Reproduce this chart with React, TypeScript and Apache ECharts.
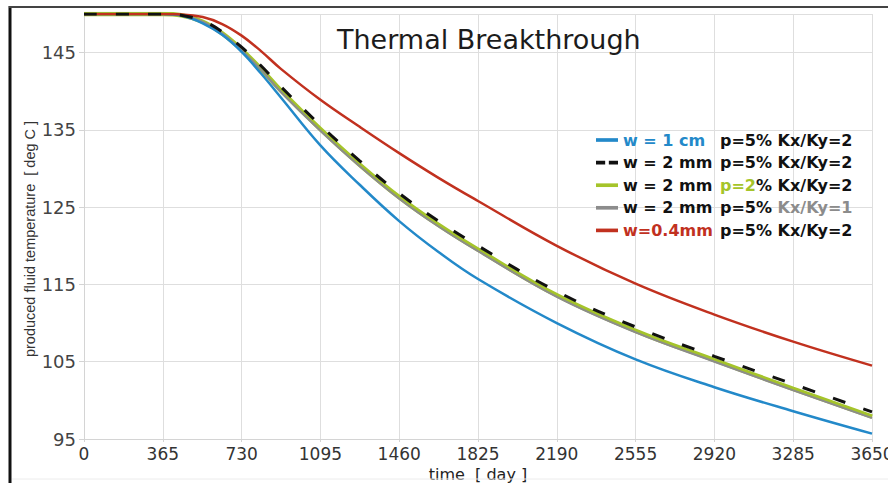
import React, { useEffect, useRef } from "react";
import * as echarts from "echarts";

// Simulation time (days) at which each temperature was sampled
const days = [0, 365, 450, 550, 640, 730, 820, 912, 1095, 1277, 1460, 1642, 1825, 2190, 2555, 2920, 3285, 3650];

// Produced fluid temperature [deg C] per scenario
const w1cm = [150, 150, 149.8, 148.8, 147.3, 145.1, 142.3, 139.2, 133.0, 127.9, 123.2, 119.2, 115.7, 110.0, 105.3, 101.7, 98.6, 95.7];
const w2mmBase = [150, 150, 149.85, 149.1, 147.7, 145.7, 143.3, 140.6, 135.6, 131.0, 126.8, 123.2, 120.0, 114.1, 109.5, 105.7, 102.1, 98.5];
const w2mmP2 = [150, 150, 149.85, 149.0, 147.5, 145.4, 142.9, 140.1, 135.1, 130.5, 126.3, 122.7, 119.5, 113.6, 109.0, 105.2, 101.5, 97.9];
const w2mmK1 = [150, 150, 149.85, 149.0, 147.5, 145.3, 142.8, 139.9, 134.9, 130.3, 126.1, 122.5, 119.3, 113.4, 108.8, 105.0, 101.3, 97.7];
const w04mm = [150, 150, 149.95, 149.6, 148.7, 147.2, 145.2, 142.9, 138.9, 135.4, 132.0, 128.8, 125.8, 120.0, 115.1, 111.1, 107.6, 104.5];

// Axis ticks
const xTicks = { min: 0, max: 3650, step: 365 };
const yTicks = { min: 95, max: 150, step: 10 };

const names = [
  "w = 1 cm p=5% Kx/Ky=2",
  "w = 2 mm p=5% Kx/Ky=2",
  "w = 2 mm p=2% Kx/Ky=2",
  "w = 2 mm p=5% Kx/Ky=1",
  "w=0.4mm p=5% Kx/Ky=2",
];

// Legend labels with the varied parameter highlighted
const legendLabels: Record<string, string> = {
  [names[0]]: "{hb|w = 1 cm}{k|p=5% Kx/Ky=2}",
  [names[1]]: "{hk|w = 2 mm}{k|p=5% Kx/Ky=2}",
  [names[2]]: "{hk|w = 2 mm}{g|p=2}{k|% Kx/Ky=2}",
  [names[3]]: "{hk|w = 2 mm}{k|p=5% }{s|Kx/Ky=1}",
  [names[4]]: "{hr|w=0.4mm}{k|p=5% Kx/Ky=2}",
};

const BLUE = "#2389c9";
const BLACK = "#111111";
const GREEN = "#a5c42a";
const GRAY = "#8c8c8c";
const RED = "#c1311f";

const SOLID_ICON = "path://M0 0H24V4H0Z";
const DASH_ICON = "path://M0 0H10V4H0Z M14 0H24V4H14Z";

const pairs = (ys: number[]) => days.map((d, i) => [d, ys[i]]);

export default function App() {
  const ref = useRef<HTMLDivElement>(null);

  useEffect(() => {
    if (!ref.current) return;
    const chart = echarts.init(ref.current, null, { renderer: "svg" });

    const font = "DejaVu Sans";
    const legendFont = { fontFamily: font, fontWeight: "bold" as const, fontSize: 16, lineHeight: 20 };

    const lineSeries = (name: string, ys: number[], color: string, width: number, type: any = "solid", z = 2) => ({
      type: "line",
      name,
      data: pairs(ys),
      smooth: 0.4,
      symbol: "none",
      showSymbol: false,
      z,
      lineStyle: { color, width, type },
      itemStyle: { color },
    });

    chart.setOption({
      animation: false,
      backgroundColor: "#ffffff",
      title: {
        text: "Thermal Breakthrough",
        left: 337,
        top: 26,
        padding: 0,
        textStyle: { fontFamily: font, fontSize: 27, fontWeight: "normal", color: "#1c1c1c" },
      },
      grid: { left: 84, right: 16, top: 14, bottom: 44, outerBoundsMode: "none", containLabel: false },
      legend: {
        orient: "vertical",
        left: 596,
        top: 130,
        padding: 0,
        itemGap: 2.6,
        itemWidth: 22,
        itemHeight: 4,
        data: [
          { name: names[0], icon: SOLID_ICON },
          { name: names[1], icon: DASH_ICON },
          { name: names[2], icon: SOLID_ICON },
          { name: names[3], icon: SOLID_ICON },
          { name: names[4], icon: SOLID_ICON },
        ],
        formatter: (name: string) => legendLabels[name] ?? name,
        textStyle: {
          ...legendFont,
          color: BLACK,
          rich: {
            hb: { ...legendFont, color: BLUE, width: 97 },
            hk: { ...legendFont, color: BLACK, width: 97 },
            hr: { ...legendFont, color: RED, width: 97 },
            k: { ...legendFont, color: BLACK },
            g: { ...legendFont, color: GREEN },
            s: { ...legendFont, color: GRAY },
          },
        },
      },
      xAxis: {
        type: "value",
        min: xTicks.min,
        max: xTicks.max,
        interval: xTicks.step,
        name: "time  [ day ]",
        nameLocation: "middle",
        nameGap: 16,
        nameTextStyle: { fontFamily: font, fontSize: 16, color: "#222" },
        axisLine: { show: true, lineStyle: { color: "#d4d4d4", width: 1 } },
        axisTick: { show: true, length: 3, lineStyle: { color: "#d4d4d4" } },
        axisLabel: { fontFamily: font, fontSize: 17, color: "#333", margin: 6, formatter: (v: number) => String(v) },
        splitLine: { show: true, lineStyle: { color: "#dedede", width: 1 } },
      },
      yAxis: {
        type: "value",
        min: yTicks.min,
        max: yTicks.max,
        interval: yTicks.step,
        axisLine: { show: true, lineStyle: { color: "#d4d4d4", width: 1 } },
        axisTick: { show: true, length: 5, lineStyle: { color: "#d4d4d4" } },
        axisLabel: {
          fontFamily: font,
          fontSize: 18,
          color: "#444",
          margin: 8,
          showMaxLabel: false,
          formatter: (v: number) => (v === yTicks.max ? "" : String(v)),
        },
        splitLine: { show: true, lineStyle: { color: "#dedede", width: 1 } },
      },
      graphic: [
        {
          type: "text",
          x: 30,
          y: 239,
          rotation: Math.PI / 2,
          style: {
            text: "produced fluid temperature  [ deg C ]",
            fontFamily: "Liberation Sans",
            fontSize: 14.5,
            fill: "#333",
            align: "center",
            verticalAlign: "middle",
          },
        },
        { type: "line", shape: { x1: 10, y1: 6, x2: 10, y2: 483 }, style: { stroke: "#111", lineWidth: 3 }, z: 100 },
        { type: "line", shape: { x1: 9, y1: 7, x2: 888, y2: 7 }, style: { stroke: "#444", lineWidth: 2 }, z: 100 },
        { type: "line", shape: { x1: 12, y1: 479, x2: 888, y2: 479 }, style: { stroke: "#ececec", lineWidth: 1 }, z: 100 },
      ],
      series: [
        lineSeries(names[2], w2mmP2, GREEN, 4.5, "solid", 2),
        lineSeries(names[3], w2mmK1, GRAY, 2, "solid", 3),
        lineSeries(names[0], w1cm, BLUE, 2.5, "solid", 4),
        lineSeries(names[4], w04mm, RED, 2.5, "solid", 4),
        lineSeries(names[1], w2mmBase, BLACK, 3, [13, 19], 5),
      ],
    });

    return () => chart.dispose();
  }, []);

  return (
    <div
      ref={ref}
      style={{ position: "fixed", left: 0, top: 0, width: 888, height: 483, background: "#fff" }}
    />
  );
}
